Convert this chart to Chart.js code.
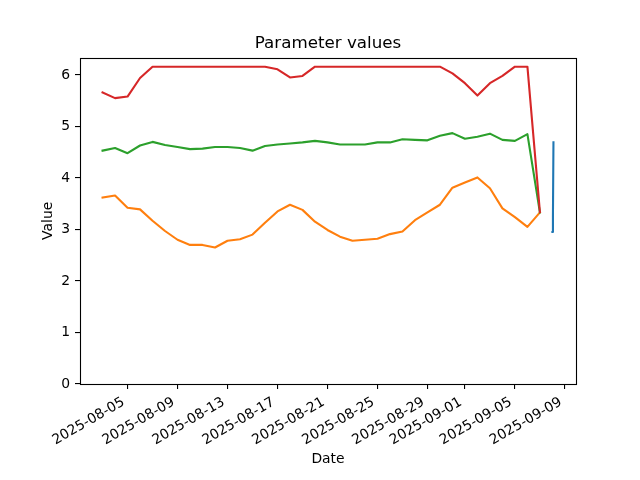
<!DOCTYPE html>
<html>
<head>
<meta charset="utf-8">
<script src="https://cdn.jsdelivr.net/npm/chart.js@4.4.1/dist/chart.umd.min.js"></script>
<style>
  html, body { margin: 0; padding: 0; background: #fff; }
  #wrap { width: 640px; height: 480px; }
</style>
</head>
<body>
<div id="wrap"><canvas id="chart" width="640" height="480"></canvas></div>
<script>
// daily dates for the three long series
const days = [
  "2025-08-03", "2025-08-04", "2025-08-05", "2025-08-06", "2025-08-07", "2025-08-08",
  "2025-08-09", "2025-08-10", "2025-08-11", "2025-08-12", "2025-08-13", "2025-08-14",
  "2025-08-15", "2025-08-16", "2025-08-17", "2025-08-18", "2025-08-19", "2025-08-20",
  "2025-08-21", "2025-08-22", "2025-08-23", "2025-08-24", "2025-08-25", "2025-08-26",
  "2025-08-27", "2025-08-28", "2025-08-29", "2025-08-30", "2025-08-31", "2025-09-01",
  "2025-09-02", "2025-09-03", "2025-09-04", "2025-09-05", "2025-09-06", "2025-09-07"
];

const orangeVals = [3.62, 3.66, 3.42, 3.39, 3.17, 2.97, 2.80, 2.70, 2.70, 2.65,
  2.78, 2.81, 2.90, 3.13, 3.35, 3.48, 3.38, 3.15, 2.99, 2.86,
  2.78, 2.80, 2.82, 2.91, 2.96, 3.18, 3.33, 3.48, 3.81, 3.91,
  4.01, 3.80, 3.41, 3.24, 3.05, 3.33];

const greenVals = [4.53, 4.58, 4.48, 4.63, 4.70, 4.64, 4.60, 4.56, 4.57, 4.60,
  4.60, 4.58, 4.53, 4.62, 4.65, 4.67, 4.69, 4.72, 4.69, 4.65,
  4.65, 4.65, 4.69, 4.69, 4.75, 4.74, 4.73, 4.82, 4.87, 4.76,
  4.80, 4.86, 4.74, 4.72, 4.85, 3.33];

const redVals = [5.66, 5.55, 5.58, 5.94, 6.16, 6.16, 6.16, 6.16, 6.16, 6.16,
  6.16, 6.16, 6.16, 6.16, 6.11, 5.95, 5.98, 6.16, 6.16, 6.16,
  6.16, 6.16, 6.16, 6.16, 6.16, 6.16, 6.16, 6.16, 6.03, 5.84,
  5.60, 5.84, 5.98, 6.16, 6.16, 3.34];

// the short blue series only covers a few hours
const blueTimes = ["2025-09-08T00:00", "2025-09-08T01:00", "2025-09-08T02:00"];
const blueVals = [2.95, 3.25, 4.69];

const xTickDates = ["2025-08-05", "2025-08-09", "2025-08-13", "2025-08-17", "2025-08-21",
  "2025-08-25", "2025-08-29", "2025-09-01", "2025-09-05", "2025-09-09"];
const yTickVals = [0, 1, 2, 3, 4, 5, 6];

const toMs = s => Date.parse(s.length === 10 ? s + "T00:00:00Z" : s + ":00Z");
const fmtDate = ms => new Date(ms).toISOString().slice(0, 10);
const pts = (xs, ys) => xs.map((d, i) => ({ x: toMs(d), y: ys[i] }));

// matplotlib-like 5% margins
const allX = days.concat(blueTimes).map(toMs);
const xLo = Math.min(...allX), xHi = Math.max(...allX);
const allY = orangeVals.concat(greenVals, redVals, blueVals);
const yLo = Math.min(...allY), yHi = Math.max(...allY);

Chart.defaults.font.family = "'DejaVu Sans', sans-serif";
Chart.defaults.font.size = 13.9;
Chart.defaults.color = "#000";

const frame = {
  id: "frame",
  afterLayout(chart) {
    // centre the title over the plot area, not the whole canvas
    const t = chart.titleBlock;
    if (t) { t.left = chart.chartArea.left; t.right = chart.chartArea.right; }
  },
  afterDatasetsDraw(chart) {
    const a = chart.chartArea, ctx = chart.ctx;
    ctx.save();
    ctx.strokeStyle = "#000";
    ctx.lineWidth = 1.1;
    ctx.strokeRect(Math.round(a.left) + 0.5, Math.round(a.top) + 0.5,
      Math.round(a.right - a.left), Math.round(a.bottom - a.top));
    ctx.restore();
  }
};

function line(data, color, order) {
  return { data, borderColor: color, backgroundColor: color, borderWidth: 2.1,
    pointRadius: 0, tension: 0, fill: false, order,
    borderJoinStyle: "round", borderCapStyle: "square" };
}

new Chart(document.getElementById("chart"), {
  type: "line",
  data: {
    datasets: [
      line(pts(blueTimes, blueVals), "#1f77b4", 3),
      line(pts(days, orangeVals), "#ff7f0e", 2),
      line(pts(days, greenVals), "#2ca02c", 1),
      line(pts(days, redVals), "#d62728", 0)
    ]
  },
  options: {
    responsive: false,
    animation: false,
    layout: { padding: { left: 0, right: 64, top: 0, bottom: 0 } },
    plugins: {
      legend: { display: false },
      tooltip: { enabled: false },
      title: {
        display: true, text: "Parameter values", color: "#000",
        font: { size: 16.7, weight: "normal" },
        padding: { top: 34, bottom: 3.6 }
      }
    },
    scales: {
      x: {
        type: "linear",
        min: xLo - 0.05 * (xHi - xLo),
        max: xHi + 0.05 * (xHi - xLo),
        border: { display: false },
        grid: { drawOnChartArea: false, color: "#000", tickLength: 5, lineWidth: 1.1 },
        ticks: {
          color: "#000", autoSkip: false, minRotation: 30, maxRotation: 30,
          padding: 5, labelOffset: -4,
          callback: v => fmtDate(v)
        },
        afterBuildTicks: s => { s.ticks = xTickDates.map(d => ({ value: toMs(d) })); },
        afterFit: s => { s.height = 96; },
        title: { display: true, text: "Date", color: "#000", padding: { top: 0, bottom: 12 } }
      },
      y: {
        min: 0,
        max: yHi + 0.05 * (yHi - yLo),
        border: { display: false },
        grid: { drawOnChartArea: false, color: "#000", tickLength: 5, lineWidth: 1.1 },
        ticks: { color: "#000", padding: 5 },
        afterBuildTicks: s => { s.ticks = yTickVals.map(v => ({ value: v })); },
        afterFit: s => { s.width = 80; },
        title: { display: true, text: "Value", color: "#000", padding: { top: 39.7, bottom: 0 } }
      }
    }
  },
  plugins: [frame]
});
</script>
</body>
</html>
